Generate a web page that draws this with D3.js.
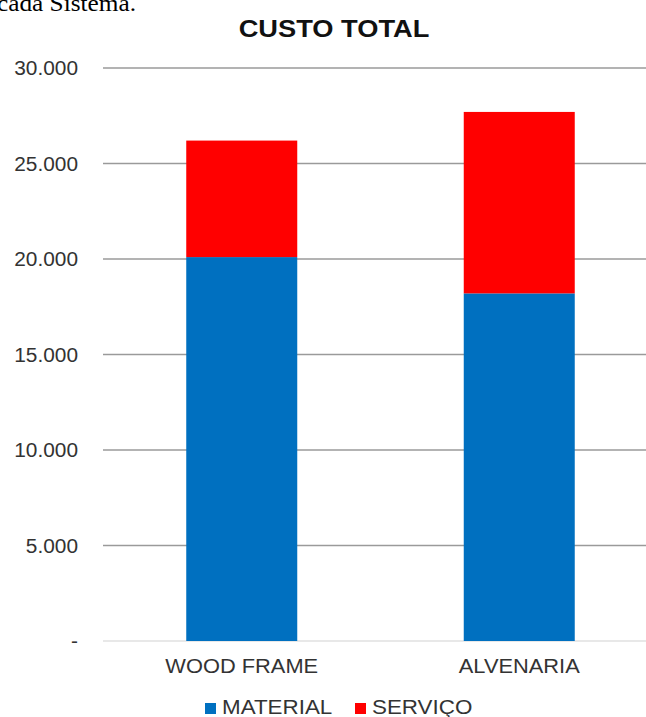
<!DOCTYPE html>
<html lang="pt">
<head>
  <meta charset="UTF-8">
  <title>custo total</title>
  <script src="https://d3js.org/d3.v7.min.js" charset="utf-8"></script>
  <style>
    body { margin: 0; background: #fff; }
    text { font-family: "Liberation Sans", Arial, sans-serif; }
  </style>
</head>
<body>
</body>
<script>
  // dados
  const categorias = ['WOOD FRAME', 'ALVENARIA']
  const material = [20100, 18200]
  const servico = [6100, 9500]
  const series = ['MATERIAL', 'SERVIÇO']
  const cores = ['#0070c0', '#ff0000']
  const ticks = [0, 5000, 10000, 15000, 20000, 25000, 30000]

  const W = 646, H = 717
  const svg = d3.select('body').append('svg').attr('width', W).attr('height', H)

  // texto cortado do documento original
  svg.append('text')
    .attr('transform', 'translate(-3,11) scale(1.1,1)')
    .style('font-family', '"Liberation Serif", "Times New Roman", serif')
    .style('font-size', '23px')
    .attr('fill', '#000')
    .text('cada Sistema.')

  const y = d3.scaleLinear().domain([0, 30000]).range([641, 68])
  const x = d3.scaleBand().domain(categorias).range([103, 658])
    .paddingInner(0.6).paddingOuter(0.3)

  const loc = d3.formatLocale({ decimal: ',', thousands: '.', grouping: [3], currency: ['R$', ''] })
  const fmt = d => d === 0 ? '-' : loc.format(',')(d)

  // grade
  svg.selectAll('line.grid').data(ticks).enter().append('line')
    .attr('class', 'grid')
    .attr('x1', 103).attr('x2', 660)
    .attr('y1', d => y(d)).attr('y2', d => y(d))
    .attr('stroke', d => d === 0 ? '#e0e0e0' : '#9a9a9a')
    .attr('stroke-width', 1.3)

  svg.selectAll('text.tick').data(ticks).enter().append('text')
    .attr('class', 'tick')
    .attr('transform', d => 'translate(78,' + (y(d) + 7) + ') scale(1.07,1)')
    .attr('text-anchor', 'end')
    .style('font-size', '19.5px')
    .attr('fill', '#333')
    .text(fmt)

  // barras empilhadas
  const dados = categorias.map((c, i) => ({ cat: c, MATERIAL: material[i], 'SERVIÇO': servico[i] }))
  const stack = d3.stack().keys(series)(dados)

  svg.selectAll('g.serie').data(stack).enter().append('g')
    .attr('class', 'serie')
    .attr('fill', (d, i) => cores[i])
    .selectAll('rect').data(d => d).enter().append('rect')
    .attr('x', d => x(d.data.cat))
    .attr('width', x.bandwidth())
    .attr('y', d => y(d[1]))
    .attr('height', d => y(d[0]) - y(d[1]))

  // rotulos das categorias
  svg.selectAll('text.cat').data(categorias).enter().append('text')
    .attr('class', 'cat')
    .attr('transform', d => 'translate(' + (x(d) + x.bandwidth() / 2) + ',673) scale(1.12,1)')
    .attr('text-anchor', 'middle')
    .style('font-size', '19.5px')
    .attr('fill', '#333')
    .text(d => d)

  // titulo
  svg.append('text')
    .attr('transform', 'translate(334,37) scale(1.16,1)')
    .attr('text-anchor', 'middle')
    .style('font-size', '23.5px')
    .style('font-weight', 'bold')
    .attr('fill', '#111')
    .text('CUSTO TOTAL')

  // legenda
  const legX = [205, 355]
  const leg = svg.selectAll('g.leg').data(series).enter().append('g')
    .attr('class', 'leg')
    .attr('transform', (d, i) => 'translate(' + legX[i] + ',0)')
  leg.append('rect').attr('x', 0).attr('y', 703).attr('width', 11).attr('height', 11)
    .attr('fill', (d, i) => cores[i])
  leg.append('text')
    .attr('transform', 'translate(17,714) scale(1.12,1)')
    .style('font-size', '20px')
    .attr('fill', '#333')
    .text(d => d)
</script>
</html>
